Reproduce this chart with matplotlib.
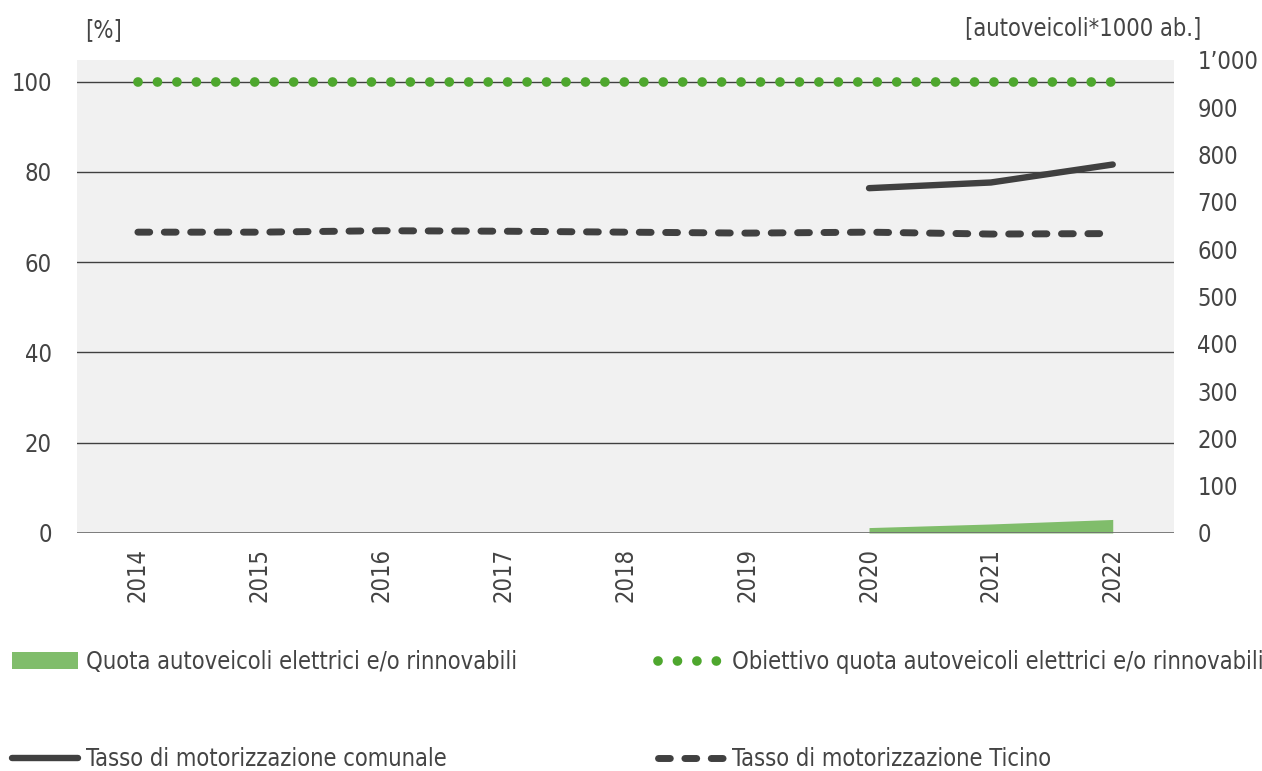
"""Quota autoveicoli elettrici e tasso di motorizzazione (2014-2022)."""
import matplotlib
matplotlib.use("Agg")
import matplotlib.pyplot as plt
from matplotlib.lines import Line2D
from matplotlib.patches import Patch
from matplotlib.ticker import FuncFormatter

plt.rcParams["font.family"] = ["DejaVu Sans"]
plt.rcParams["font.stretch"] = "condensed"

# data
years = [2014, 2015, 2016, 2017, 2018, 2019, 2020, 2021, 2022]
quota_years = [2020, 2021, 2022]
quota_pct = [1.2, 2.0, 3.0]                    # % (left axis)
obiettivo_pct = [100] * len(years)             # % (left axis)
comunale_years = [2020, 2021, 2022]
tasso_comunale = [729, 741, 779]               # autoveicoli*1000 ab. (right axis)
tasso_ticino = [636, 636, 639, 638, 636, 634, 636, 632, 633]

TXT = "#444444"
DARK = "#404040"
GREEN_A = "#80bd6b"
GREEN_D = "#4ea72e"
FS = 17
DOTS = (0, (0.001, 2.0))
DASH = (0, (1.7, 2.1))

fig = plt.figure(figsize=(12.62, 7.71), dpi=100)
ax = fig.add_axes([0.061, 0.3087, 0.869, 0.6135])
ax2 = ax.twinx()
ax.set_facecolor("#f1f1f1")

ax.set_xlim(2013.5, 2022.5)
ax.set_ylim(0, 104.8)
ax2.set_ylim(0, 1000)

ax.set_yticks([0, 20, 40, 60, 80, 100])
ax2.set_yticks(range(0, 1001, 100))
ax.set_xticks(years)
ax.set_xticklabels([str(y) for y in years], rotation=90)
ax2.yaxis.set_major_formatter(FuncFormatter(lambda v, p: f"{int(v):,}".replace(",", "\u2019")))

for a in (ax, ax2):
    for s in a.spines.values():
        s.set_visible(False)
    a.tick_params(length=0, labelsize=FS, colors=TXT)
ax.tick_params(axis="y", pad=18)
ax2.tick_params(axis="y", pad=17)
ax.tick_params(axis="x", pad=11)

for v in [20, 40, 60, 80, 100]:
    ax.axhline(v, color=DARK, lw=1.0, zorder=1)
ax.axhline(0, color="#707070", lw=2.0, zorder=3)

ax.fill_between(quota_years, 0, quota_pct, color=GREEN_A, lw=0, zorder=2)
ax.plot(years, obiettivo_pct, color=GREEN_D, lw=7, linestyle=DOTS,
        dash_capstyle="round", zorder=4)
ax2.plot(comunale_years, tasso_comunale, color=DARK, lw=4.6,
         solid_capstyle="round", zorder=4)
ax2.plot(years, tasso_ticino, color=DARK, lw=5, linestyle=DASH,
         dash_capstyle="round", zorder=4)

fig.text(85 / 1262, 1 - 30 / 771, "[%]", fontsize=FS, color=TXT, va="center", ha="left")
fig.text(1201 / 1262, 1 - 28 / 771, "[autoveicoli*1000 ab.]", fontsize=FS, color=TXT,
         va="center", ha="right")

h_quota = Patch(facecolor=GREEN_A, edgecolor="none")
h_com = Line2D([], [], color=DARK, lw=4.6, solid_capstyle="round")
h_obj = Line2D([], [], color=GREEN_D, lw=7, linestyle=DOTS, dash_capstyle="round")
h_tic = Line2D([], [], color=DARK, lw=5, linestyle=DASH, dash_capstyle="round")

leg_kw = dict(frameon=False, fontsize=FS, labelcolor=TXT, handlelength=2.8,
              handletextpad=0.35, labelspacing=3.1, borderpad=0, borderaxespad=0)
fig.legend([h_quota, h_com], ["Quota autoveicoli elettrici e/o rinnovabili",
                              "Tasso di motorizzazione comunale"],
           loc="upper left", bbox_to_anchor=(12 / 1262, 1 - 650 / 771), **leg_kw)
fig.legend([h_obj, h_tic], ["Obiettivo quota autoveicoli elettrici e/o rinnovabili",
                            "Tasso di motorizzazione Ticino"],
           loc="upper left", bbox_to_anchor=(658 / 1262, 1 - 650 / 771), **leg_kw)

fig.savefig("out.png", dpi=100, facecolor="white")
